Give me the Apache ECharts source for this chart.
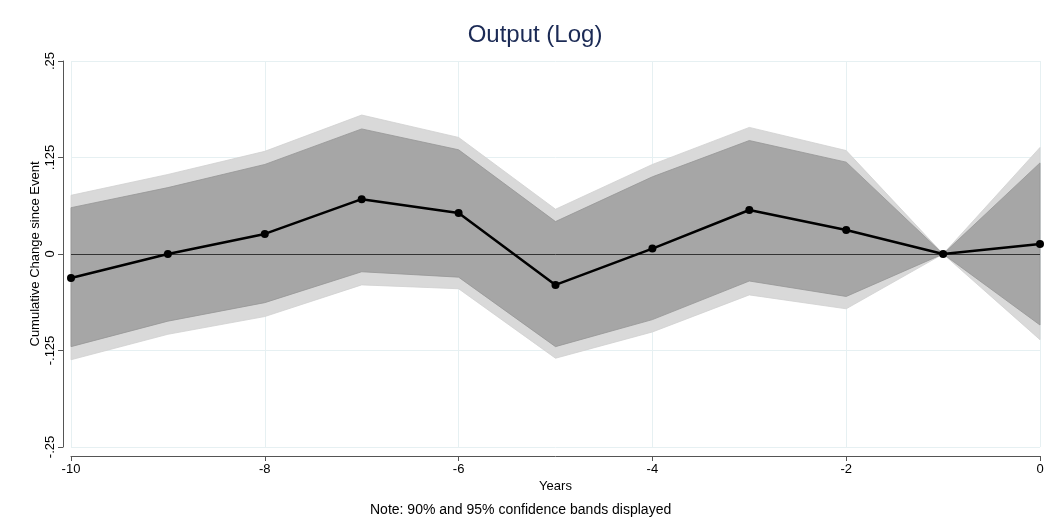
<!DOCTYPE html>
<html>
<head>
<meta charset="utf-8">
<script src="https://cdn.jsdelivr.net/npm/echarts@6/dist/echarts.min.js"></script>
<style>
  html, body { margin: 0; padding: 0; background: #ffffff; }
  #chart { width: 1048px; height: 529px; }
</style>
</head>
<body>
<div id="chart"></div>
<script>
// Event-study estimates: cumulative change in log output relative to the event year
const years = [-10, -9, -8, -7, -6, -5, -4, -3, -2, -1, 0];
const estimate = [-0.031, 0.000, 0.026, 0.071, 0.053, -0.040, 0.007, 0.057, 0.031, 0.000, 0.013];
// 90% confidence band
const lo90 = [-0.120, -0.087, -0.063, -0.023, -0.030, -0.120, -0.085, -0.035, -0.055, 0.000, -0.092];
const hi90 = [0.060, 0.086, 0.116, 0.162, 0.135, 0.042, 0.100, 0.147, 0.119, 0.000, 0.118];
// 95% confidence band
const lo95 = [-0.137, -0.104, -0.081, -0.040, -0.045, -0.135, -0.101, -0.053, -0.071, 0.000, -0.111];
const hi95 = [0.076, 0.103, 0.133, 0.180, 0.151, 0.058, 0.116, 0.164, 0.134, 0.000, 0.138];
const yTicks = [-0.25, -0.125, 0, 0.125, 0.25];
const yTickLabels = ['-.25', '-.125', '0', '.125', '.25'];

const FONT = 'Liberation Sans, Arial, Helvetica, sans-serif';

function bandData(lo, hi) {
  return years.map((x, i) => [x, lo[i], hi[i]]);
}

// One filled polygon per band: upper edge left to right, lower edge back
function bandSeries(name, lo, hi, fill, edge) {
  return {
    name: name,
    type: 'custom',
    silent: true,
    data: bandData(lo, hi),
    encode: { x: 0, y: [1, 2] },
    renderItem: function (params, api) {
      if (params.dataIndex !== 0) return null;
      const pts = [];
      for (let i = 0; i < years.length; i++) pts.push(api.coord([years[i], hi[i]]));
      for (let i = years.length - 1; i >= 0; i--) pts.push(api.coord([years[i], lo[i]]));
      return {
        type: 'polygon',
        shape: { points: pts },
        style: { fill: fill, stroke: edge, lineWidth: 0.8 }
      };
    },
    z: 1
  };
}

const chart = echarts.init(document.getElementById('chart'), null, { renderer: 'canvas' });

chart.setOption({
  animation: false,
  backgroundColor: '#ffffff',
  textStyle: { fontFamily: FONT },
  title: {
    text: 'Output (Log)',
    left: 530,
    textAlign: 'center',
    top: 18,
    textStyle: { fontFamily: FONT, fontSize: 24, fontWeight: 'normal', color: '#1b2a55' }
  },
  graphic: [{
    type: 'text',
    left: 370,
    top: 503,
    style: { text: 'Note: 90% and 95% confidence bands displayed', font: '14px ' + FONT, fill: '#000000' }
  }],
  grid: { left: 71, right: 8, top: 61, bottom: 82 },
  xAxis: {
    type: 'value',
    min: -10,
    max: 0,
    interval: 2,
    offset: 9,
    name: 'Years',
    nameLocation: 'middle',
    nameGap: 24,
    nameMoveOverlap: false,
    nameTextStyle: { fontFamily: FONT, fontSize: 13, color: '#000' },
    axisLine: { show: true, onZero: false, lineStyle: { color: '#555', width: 1 } },
    axisTick: { show: true, length: 5, lineStyle: { color: '#555' } },
    axisLabel: { fontFamily: FONT, fontSize: 13, color: '#000', margin: 7 },
    splitLine: { show: true, lineStyle: { color: '#e6f0f2', width: 1 } }
  },
  yAxis: {
    type: 'value',
    min: -0.25,
    max: 0.25,
    interval: 0.125,
    offset: 8,
    name: 'Cumulative Change since Event',
    nameLocation: 'middle',
    nameGap: 21,
    nameMoveOverlap: false,
    nameTextStyle: { fontFamily: FONT, fontSize: 13, color: '#000' },
    axisLine: { show: true, onZero: false, lineStyle: { color: '#555', width: 1 } },
    axisTick: { show: true, length: 5, lineStyle: { color: '#555' } },
    axisLabel: {
      fontFamily: FONT, fontSize: 13, color: '#000', rotate: 90, margin: 6,
      formatter: function (v) {
        const k = yTicks.findIndex(t => Math.abs(t - v) < 1e-9);
        return k >= 0 ? yTickLabels[k] : '';
      }
    },
    splitLine: { show: true, lineStyle: { color: '#e6f0f2', width: 1 } }
  },
  series: [
    bandSeries('95% CI', lo95, hi95, '#d9d9d9', '#d0d0d0'),
    bandSeries('90% CI', lo90, hi90, '#a6a6a6', '#959595'),
    {
      name: 'Estimate',
      type: 'line',
      data: years.map((x, i) => [x, estimate[i]]),
      symbol: 'circle',
      symbolSize: 8,
      lineStyle: { color: '#000', width: 2.5 },
      itemStyle: { color: '#000' },
      z: 3,
      markLine: {
        silent: true,
        symbol: ['none', 'none'],
        label: { show: false },
        lineStyle: { color: '#333', width: 1, type: 'solid' },
        data: [{ yAxis: 0 }],
        z: 2
      }
    }
  ]
});
</script>
</body>
</html>
